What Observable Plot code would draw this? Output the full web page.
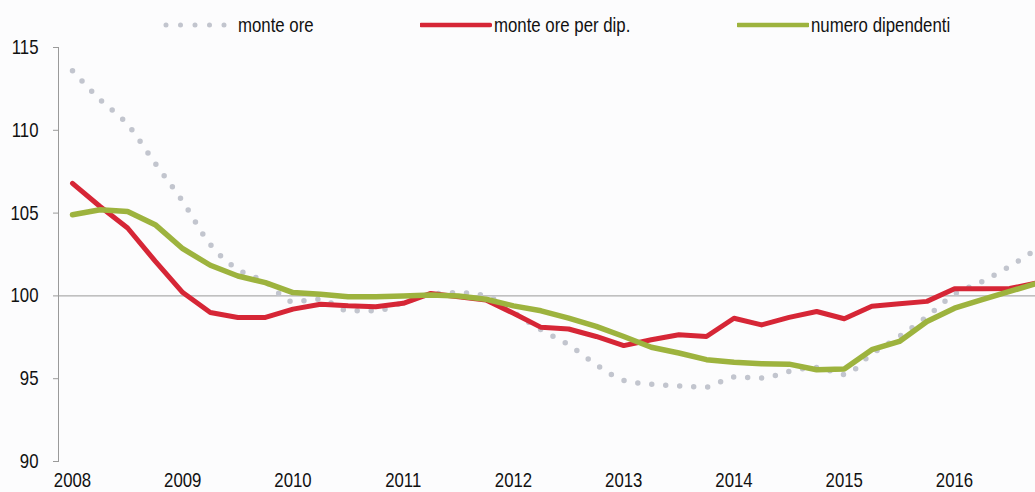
<!DOCTYPE html>
<html>
<head>
<meta charset="utf-8">
<script src="https://cdn.jsdelivr.net/npm/d3@7"></script>
<script src="https://cdn.jsdelivr.net/npm/@observablehq/plot@0.6"></script>
<style>
  html, body { margin: 0; padding: 0; background: #fcfcfd; }
  body { font-family: "Liberation Sans Narrow", "Arial Narrow", "Liberation Sans", sans-serif; color: #111; }
  #wrap { position: relative; width: 1035px; height: 492px; overflow: hidden; }
  #legend { position: relative; width: 1035px; height: 34px; font-size: 20px; }
  #legend .sw { position: absolute; top: 13px; }
  #legend .lab { position: absolute; top: 13px; line-height: 24px; white-space: nowrap;
                 transform: scaleX(0.84); transform-origin: left center; }
  #chart svg { display: block; }
</style>
</head>
<body>
<div id="wrap">
  <div id="legend"></div>
  <div id="chart"></div>
</div>
<script>
// ---- data (quarterly, index) ----
const startYear = 2008;
const quarters = d3.range(36).map(i => startYear + i / 4);
const seriesNames = ["monte ore", "monte ore per dip.", "numero dipendenti"];
const monteOre = [
  113.6, 111.85, 110.35, 108.0,
  105.7, 103.1, 101.6, 100.85,
  99.65, 99.8, 99.1, 99.1,
  99.6, 100.1, 100.2, 100.0,
  99.0, 97.95, 97.05, 95.85,
  94.9, 94.67, 94.56, 94.5,
  95.1, 95.04, 95.44, 95.68,
  95.25, 96.5, 97.55, 98.75,
  100.1, 100.87, 101.78, 102.85
];
const monteOrePerDip = [
  106.8, 105.4, 104.1, 102.1,
  100.2, 99.0, 98.7, 98.7,
  99.2, 99.5, 99.4, 99.35,
  99.55, 100.15, 99.95, 99.75,
  98.95, 98.1, 98.0, 97.55,
  97.0, 97.35, 97.65, 97.55,
  98.65, 98.25, 98.7, 99.06,
  98.62, 99.37, 99.52, 99.67,
  100.43, 100.43, 100.45, 100.78
];
const numeroDipendenti = [
  104.9, 105.2, 105.1, 104.3,
  102.85, 101.85, 101.2, 100.8,
  100.2, 100.1, 99.95, 99.95,
  100.0, 100.05, 100.0, 99.8,
  99.4, 99.1, 98.66, 98.16,
  97.55, 96.9, 96.55, 96.15,
  96.0, 95.9, 95.88, 95.54,
  95.58, 96.75, 97.25, 98.46,
  99.26, 99.77, 100.27, 100.77
];
const yTicks = [90, 95, 100, 105, 110, 115];
const xTicks = [2008, 2009, 2010, 2011, 2012, 2013, 2014, 2015, 2016];

const colors = { dots: "#c2c5ce", red: "#d62636", green: "#9db33e" };

const toRows = vals => quarters.map((t, i) => ({ t, v: vals[i] }));
const rowsOre = toRows(monteOre);
const rowsDip = toRows(monteOrePerDip);
const rowsNum = toRows(numeroDipendenti);

// ---- legend (HTML, above the SVG) ----
const legend = document.getElementById("legend");
legend.innerHTML = `
  <svg class="sw" style="left:160px" width="76" height="24"><line x1="6" x2="70" y1="12" y2="12" stroke="${colors.dots}" stroke-width="5" stroke-linecap="round" stroke-dasharray="0 14.5"/></svg>
  <span class="lab" style="left:238px">${seriesNames[0]}</span>
  <svg class="sw" style="left:420px" width="72" height="24"><line x1="1" x2="70" y1="12" y2="12" stroke="${colors.red}" stroke-width="4.5" stroke-linecap="round"/></svg>
  <span class="lab" style="left:494px">${seriesNames[1]}</span>
  <svg class="sw" style="left:737px" width="72" height="24"><line x1="1" x2="71" y1="12" y2="12" stroke="${colors.green}" stroke-width="4.5" stroke-linecap="round"/></svg>
  <span class="lab" style="left:811px">${seriesNames[2]}</span>
`;

// ---- chart ----
const pxPerYear = 110.25;
const marginLeft = 58;
const width = 1035;
const x0 = 2008 - (72 - marginLeft) / pxPerYear;
const x1 = x0 + (width - marginLeft) / pxPerYear;

const chart = Plot.plot({
  width,
  height: 458,
  marginLeft,
  marginRight: 0,
  marginTop: 13,
  marginBottom: 31,
  style: {
    fontFamily: '"Liberation Sans Narrow", "Arial Narrow", "Liberation Sans", sans-serif',
    fontSize: "20px",
    background: "transparent",
    color: "#111",
    overflow: "visible"
  },
  x: { domain: [x0, x1] },
  y: { domain: [90, 115] },
  marks: [
    Plot.ruleY([100], { stroke: "#9a9a9a", strokeWidth: 1 }),
    Plot.frame({ anchor: "left", stroke: "#9a9a9a" }),
    Plot.axisY({ ticks: yTicks, tickSize: 5, tickPadding: 15, stroke: "#9a9a9a", label: null, fill: "#111" }),
    Plot.axisX({ ticks: xTicks, tickSize: 0, tickPadding: 11, tickFormat: d => String(d), label: null, fill: "#111" }),
    Plot.line(rowsOre, { x: "t", y: "v", stroke: colors.dots, strokeWidth: 5.5, strokeLinecap: "round", strokeDasharray: "0 14", curve: "monotone-x" }),
    Plot.line(rowsDip, { x: "t", y: "v", stroke: colors.red, strokeWidth: 5, strokeLinejoin: "round" }),
    Plot.line(rowsNum, { x: "t", y: "v", stroke: colors.green, strokeWidth: 5.5, strokeLinejoin: "round" })
  ]
});
document.getElementById("chart").appendChild(chart);

// narrow the axis labels (Arial Narrow look) around their anchor point
const narrow = 0.84;
chart.querySelectorAll("text").forEach(t => {
  const ax = +(t.getAttribute("x") || 0);
  const old = t.getAttribute("transform") || "";
  t.setAttribute("transform", `${old} translate(${ax},0) scale(${narrow},1) translate(${-ax},0)`.trim());
});
</script>
</body>
</html>
